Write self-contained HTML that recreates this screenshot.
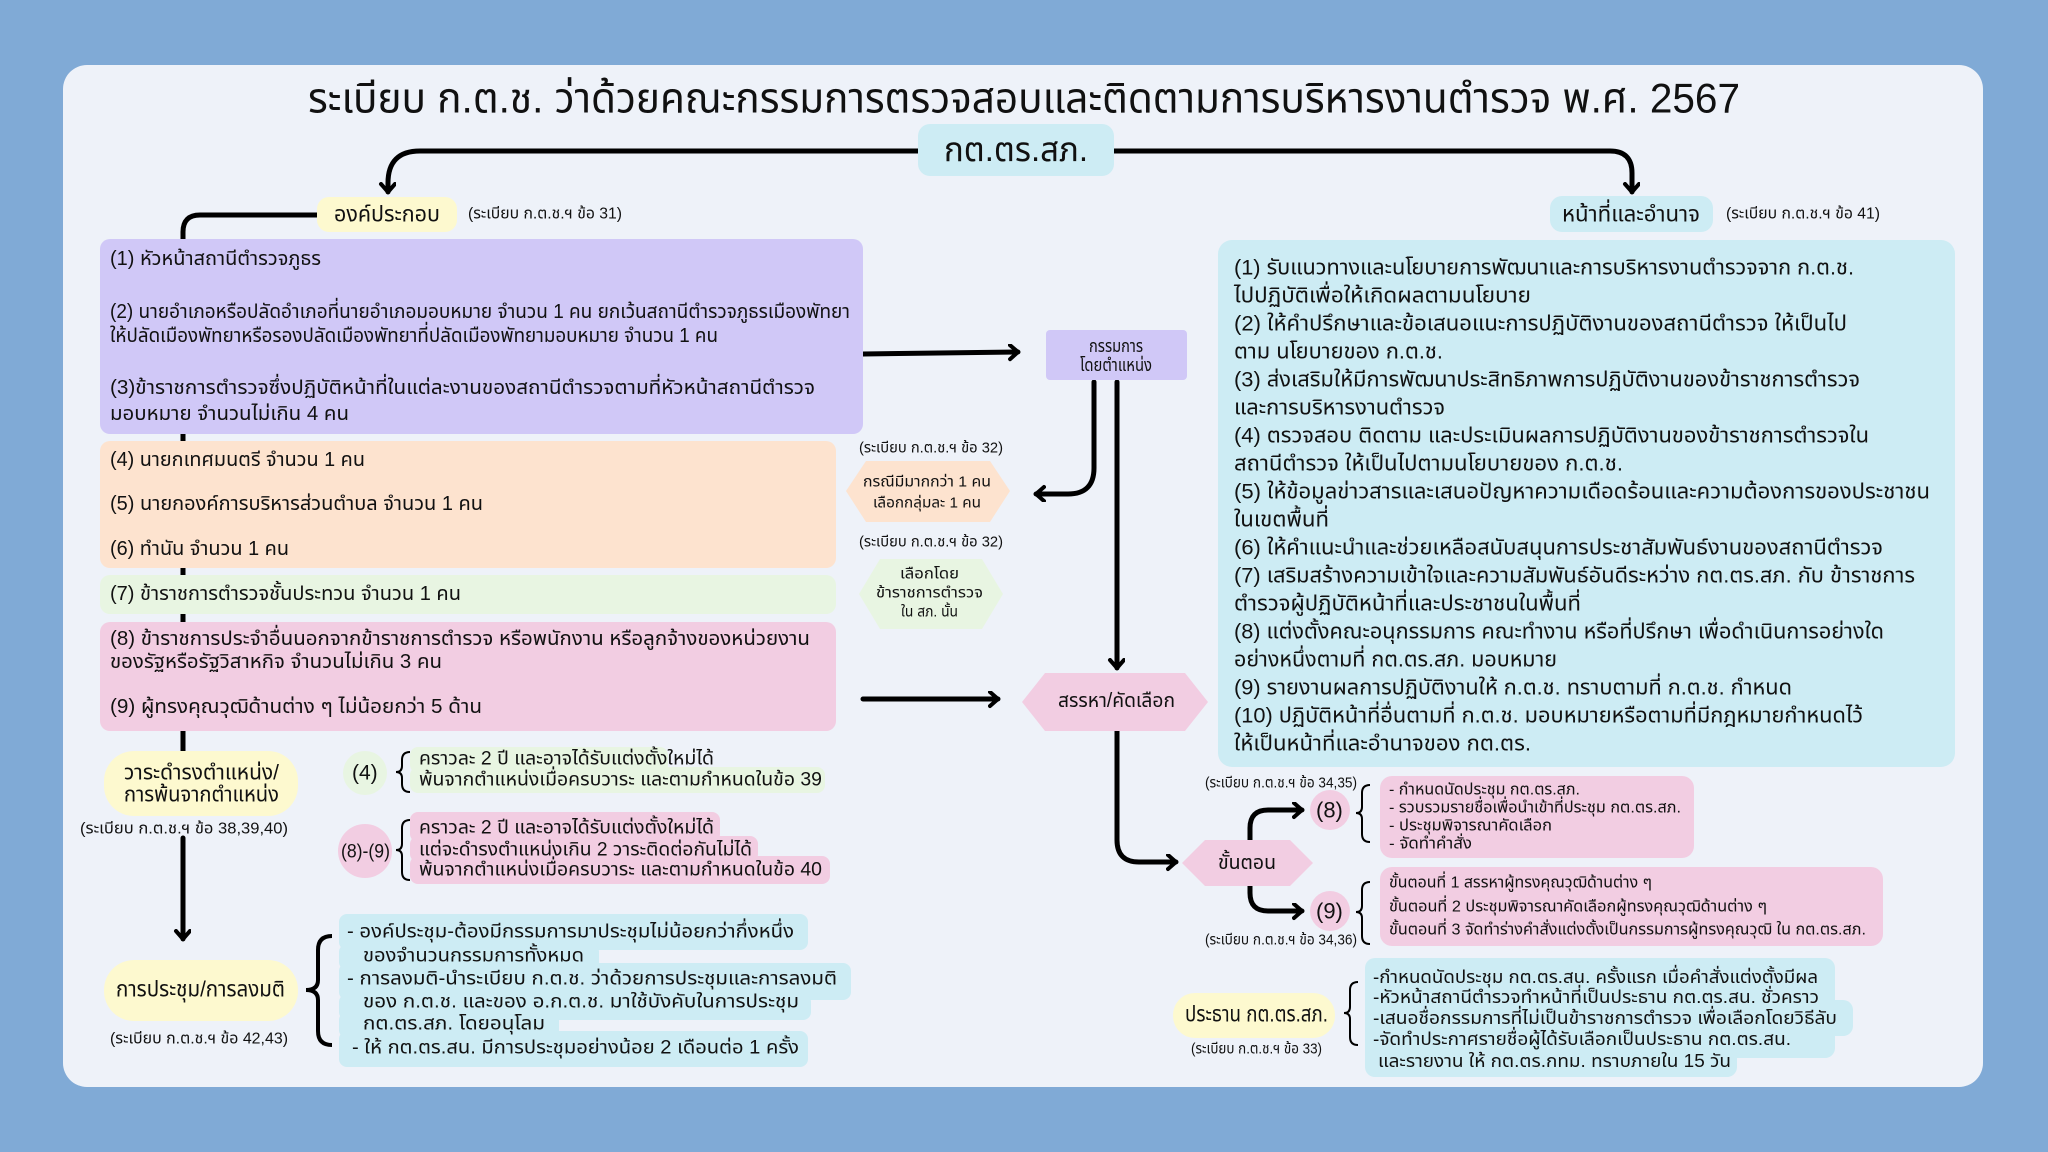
<!DOCTYPE html>
<html><head><meta charset="utf-8"><style>
html,body{margin:0;padding:0;background:#80aad6;}
svg{display:block}
text{font-family:"Liberation Sans","Noto Sans Thai","Loma","Garuda","DejaVu Sans",sans-serif;dominant-baseline:central;fill:#111;}
</style></head><body>
<svg width="2048" height="1152" viewBox="0 0 2048 1152" xmlns="http://www.w3.org/2000/svg">
<defs>
<marker id="ah" markerUnits="userSpaceOnUse" markerWidth="20" markerHeight="20" refX="10" refY="8" orient="auto">
<path d="M2,1 L10,8 L2,15" fill="none" stroke="#000" stroke-width="4" stroke-linecap="round" stroke-linejoin="round"/>
</marker>
</defs>
<rect x="0" y="0" width="2048" height="1152" fill="#80aad6"/>
<rect x="63" y="65" width="1920" height="1022" rx="24" fill="#eef2f9"/>

<g fill="none" stroke="#000" stroke-width="5" stroke-linecap="round">
<path d="M918,151 L420,151 Q388,151 388,183 L388,192" marker-end="url(#ah)"/>
<path d="M1114,151 L1610,151 Q1632,151 1632,173 L1632,192" marker-end="url(#ah)"/>
<path d="M317,215 L200,215 Q183,215 183,232 L183,751"/>
<path d="M183,838 L183,939" marker-end="url(#ah)"/>
<path d="M863,354 L1018,352" marker-end="url(#ah)"/>
<path d="M1094,382 L1094,468 Q1094,494 1068,494 L1036,494" marker-end="url(#ah)"/>
<path d="M1117,382 L1117,668" marker-end="url(#ah)"/>
<path d="M863,699 L998,699" marker-end="url(#ah)"/>
<path d="M1117,731 L1117,840 Q1117,862 1139,862 L1176,862" marker-end="url(#ah)"/>
<path d="M1250,840 L1250,828 Q1250,810 1268,810 L1302,810" marker-end="url(#ah)"/>
<path d="M1250,886 L1250,893 Q1250,911 1268,911 L1302,911" marker-end="url(#ah)"/>
</g>

<text x="308" y="98" font-size="42" textLength="1432" lengthAdjust="spacingAndGlyphs">ระเบียบ ก.ต.ช. ว่าด้วยคณะกรรมการตรวจสอบและติดตามการบริหารงานตำรวจ พ.ศ. 2567</text>
<rect x="918" y="124" width="196" height="52" rx="12" fill="#cdecf4"/>
<text x="944" y="150" font-size="34" textLength="144" lengthAdjust="spacingAndGlyphs">กต.ตร.สภ.</text>

<rect x="317" y="197" width="140" height="35" rx="12" fill="#fdf9cf"/>
<text x="334" y="214" font-size="22" textLength="106" lengthAdjust="spacingAndGlyphs">องค์ประกอบ</text>
<text x="468" y="214" font-size="16" textLength="154" lengthAdjust="spacingAndGlyphs">(ระเบียบ ก.ต.ช.ฯ ข้อ 31)</text>

<rect x="100" y="239" width="763" height="195" rx="10" fill="#d0c8f7"/>
<text x="110" y="259" font-size="20" textLength="211" lengthAdjust="spacingAndGlyphs">(1) หัวหน้าสถานีตำรวจภูธร</text>
<text x="110" y="312" font-size="20" textLength="740" lengthAdjust="spacingAndGlyphs">(2) นายอำเภอหรือปลัดอำเภอที่นายอำเภอมอบหมาย จำนวน 1 คน ยกเว้นสถานีตำรวจภูธรเมืองพัทยา</text>
<text x="110" y="336" font-size="20" textLength="608" lengthAdjust="spacingAndGlyphs">ให้ปลัดเมืองพัทยาหรือรองปลัดเมืองพัทยาที่ปลัดเมืองพัทยามอบหมาย จำนวน 1 คน</text>
<text x="110" y="388" font-size="20" textLength="705" lengthAdjust="spacingAndGlyphs">(3)ข้าราชการตำรวจซึ่งปฏิบัติหน้าที่ในแต่ละงานของสถานีตำรวจตามที่หัวหน้าสถานีตำรวจ</text>
<text x="110" y="414" font-size="20" textLength="239" lengthAdjust="spacingAndGlyphs">มอบหมาย จำนวนไม่เกิน 4 คน</text>

<rect x="100" y="441" width="736" height="127" rx="10" fill="#fde3cf"/>
<text x="110" y="460" font-size="20" textLength="255" lengthAdjust="spacingAndGlyphs">(4) นายกเทศมนตรี จำนวน 1 คน</text>
<text x="110" y="504" font-size="20" textLength="373" lengthAdjust="spacingAndGlyphs">(5) นายกองค์การบริหารส่วนตำบล จำนวน 1 คน</text>
<text x="110" y="549" font-size="20" textLength="179" lengthAdjust="spacingAndGlyphs">(6) ทำนัน จำนวน 1 คน</text>

<rect x="100" y="575" width="736" height="39" rx="10" fill="#e8f5e2"/>
<text x="110" y="594" font-size="20" textLength="351" lengthAdjust="spacingAndGlyphs">(7) ข้าราชการตำรวจชั้นประทวน จำนวน 1 คน</text>

<rect x="100" y="622" width="736" height="109" rx="10" fill="#f2cde2"/>
<text x="110" y="639" font-size="20" textLength="700" lengthAdjust="spacingAndGlyphs">(8) ข้าราชการประจำอื่นนอกจากข้าราชการตำรวจ หรือพนักงาน หรือลูกจ้างของหน่วยงาน</text>
<text x="110" y="662" font-size="20" textLength="332" lengthAdjust="spacingAndGlyphs">ของรัฐหรือรัฐวิสาหกิจ จำนวนไม่เกิน 3 คน</text>
<text x="110" y="707" font-size="20" textLength="372" lengthAdjust="spacingAndGlyphs">(9) ผู้ทรงคุณวุฒิด้านต่าง ๆ ไม่น้อยกว่า 5 ด้าน</text>

<rect x="1046" y="330" width="141" height="50" rx="4" fill="#d0c8f7"/>
<text x="1089" y="346" font-size="18" textLength="54" lengthAdjust="spacingAndGlyphs">กรรมการ</text>
<text x="1080" y="365" font-size="18" textLength="72" lengthAdjust="spacingAndGlyphs">โดยตำแหน่ง</text>

<text x="859" y="448" font-size="15" textLength="144" lengthAdjust="spacingAndGlyphs">(ระเบียบ ก.ต.ช.ฯ ข้อ 32)</text>
<polygon points="846,491 866,461 990,461 1010,491 990,522 866,522" fill="#fde3cf"/>
<text x="863" y="482" font-size="15" textLength="128" lengthAdjust="spacingAndGlyphs">กรณีมีมากกว่า 1 คน</text>
<text x="873" y="503" font-size="15" textLength="108" lengthAdjust="spacingAndGlyphs">เลือกกลุ่มละ 1 คน</text>
<text x="859" y="542" font-size="15" textLength="144" lengthAdjust="spacingAndGlyphs">(ระเบียบ ก.ต.ช.ฯ ข้อ 32)</text>
<polygon points="859,594 880,559 982,559 1003,594 982,629 880,629" fill="#e8f5e2"/>
<text x="900" y="574" font-size="15" textLength="59" lengthAdjust="spacingAndGlyphs">เลือกโดย</text>
<text x="876" y="593" font-size="15" textLength="107" lengthAdjust="spacingAndGlyphs">ข้าราชการตำรวจ</text>
<text x="901" y="612" font-size="15" textLength="57" lengthAdjust="spacingAndGlyphs">ใน สภ. นั้น</text>

<polygon points="1022,702 1045,673 1185,673 1208,702 1185,731 1045,731" fill="#f2cde2"/>
<text x="1058" y="701" font-size="20" textLength="117" lengthAdjust="spacingAndGlyphs">สรรหา/คัดเลือก</text>

<polygon points="1182,863 1205,840 1290,840 1313,863 1290,886 1205,886" fill="#f2cde2"/>
<text x="1218" y="863" font-size="20" textLength="58" lengthAdjust="spacingAndGlyphs">ขั้นตอน</text>

<text x="1205" y="783" font-size="15" textLength="152" lengthAdjust="spacingAndGlyphs">(ระเบียบ ก.ต.ช.ฯ ข้อ 34,35)</text>
<text x="1205" y="940" font-size="15" textLength="152" lengthAdjust="spacingAndGlyphs">(ระเบียบ ก.ต.ช.ฯ ข้อ 34,36)</text>
<circle cx="1330" cy="810" r="20" fill="#f2cde2"/>
<text x="1316" y="810" font-size="22">(8)</text>
<circle cx="1330" cy="911" r="20" fill="#f2cde2"/>
<text x="1316" y="911" font-size="22">(9)</text>

<rect x="1380" y="776" width="314" height="82" rx="12" fill="#f2cde2"/>
<text x="1389" y="790" font-size="16" textLength="191" lengthAdjust="spacingAndGlyphs">- กำหนดนัดประชุม กต.ตร.สภ.</text>
<text x="1389" y="808" font-size="16" textLength="292" lengthAdjust="spacingAndGlyphs">- รวบรวมรายชื่อเพื่อนำเข้าที่ประชุม กต.ตร.สภ.</text>
<text x="1389" y="826" font-size="16" textLength="163" lengthAdjust="spacingAndGlyphs">- ประชุมพิจารณาคัดเลือก</text>
<text x="1389" y="844" font-size="16" textLength="83" lengthAdjust="spacingAndGlyphs">- จัดทำคำสั่ง</text>

<rect x="1380" y="867" width="503" height="79" rx="12" fill="#f2cde2"/>
<text x="1389" y="883" font-size="16" textLength="263" lengthAdjust="spacingAndGlyphs">ขั้นตอนที่ 1 สรรหาผู้ทรงคุณวุฒิด้านต่าง ๆ</text>
<text x="1389" y="907" font-size="16" textLength="378" lengthAdjust="spacingAndGlyphs">ขั้นตอนที่ 2 ประชุมพิจารณาคัดเลือกผู้ทรงคุณวุฒิด้านต่าง ๆ</text>
<text x="1389" y="930" font-size="16" textLength="477" lengthAdjust="spacingAndGlyphs">ขั้นตอนที่ 3 จัดทำร่างคำสั่งแต่งตั้งเป็นกรรมการผู้ทรงคุณวุฒิ ใน กต.ตร.สภ.</text>

<rect x="1173" y="993" width="162" height="45" rx="22" fill="#fdf9cf"/>
<text x="1185" y="1014" font-size="22" textLength="143" lengthAdjust="spacingAndGlyphs">ประธาน กต.ตร.สภ.</text>
<text x="1191" y="1049" font-size="15" textLength="131" lengthAdjust="spacingAndGlyphs">(ระเบียบ ก.ต.ช.ฯ ข้อ 33)</text>
<g fill="#cdecf4">
<rect x="1365" y="958" width="470" height="100" rx="10"/>
<rect x="1365" y="1000" width="488" height="36" rx="10"/>
<rect x="1365" y="1040" width="372" height="37" rx="10"/>
</g>
<text x="1373" y="977" font-size="18" textLength="445" lengthAdjust="spacingAndGlyphs">-กำหนดนัดประชุม กต.ตร.สน. ครั้งแรก เมื่อคำสั่งแต่งตั้งมีผล</text>
<text x="1373" y="997" font-size="18" textLength="446" lengthAdjust="spacingAndGlyphs">-หัวหน้าสถานีตำรวจทำหน้าที่เป็นประธาน กต.ตร.สน. ชั่วคราว</text>
<text x="1373" y="1018" font-size="18" textLength="464" lengthAdjust="spacingAndGlyphs">-เสนอชื่อกรรมการที่ไม่เป็นข้าราชการตำรวจ เพื่อเลือกโดยวิธีลับ</text>
<text x="1373" y="1039" font-size="18" textLength="418" lengthAdjust="spacingAndGlyphs">-จัดทำประกาศรายชื่อผู้ได้รับเลือกเป็นประธาน กต.ตร.สน.</text>
<text x="1378" y="1061" font-size="18" textLength="353" lengthAdjust="spacingAndGlyphs">และรายงาน ให้ กต.ตร.กทม. ทราบภายใน 15 วัน</text>

<rect x="1550" y="196" width="163" height="36" rx="12" fill="#cdecf4"/>
<text x="1562" y="214" font-size="22" textLength="138" lengthAdjust="spacingAndGlyphs">หน้าที่และอำนาจ</text>
<text x="1726" y="214" font-size="16" textLength="154" lengthAdjust="spacingAndGlyphs">(ระเบียบ ก.ต.ช.ฯ ข้อ 41)</text>
<rect x="1218" y="240" width="737" height="527" rx="14" fill="#cdecf4"/>
<g font-size="21">
<text x="1234" y="268" textLength="620" lengthAdjust="spacingAndGlyphs">(1) รับแนวทางและนโยบายการพัฒนาและการบริหารงานตำรวจจาก ก.ต.ช.</text>
<text x="1234" y="296" textLength="297" lengthAdjust="spacingAndGlyphs">ไปปฏิบัติเพื่อให้เกิดผลตามนโยบาย</text>
<text x="1234" y="324" textLength="613" lengthAdjust="spacingAndGlyphs">(2) ให้คำปรึกษาและข้อเสนอแนะการปฏิบัติงานของสถานีตำรวจ ให้เป็นไป</text>
<text x="1234" y="352" textLength="209" lengthAdjust="spacingAndGlyphs">ตาม นโยบายของ ก.ต.ช.</text>
<text x="1234" y="380" textLength="626" lengthAdjust="spacingAndGlyphs">(3) ส่งเสริมให้มีการพัฒนาประสิทธิภาพการปฏิบัติงานของข้าราชการตำรวจ</text>
<text x="1234" y="408" textLength="211" lengthAdjust="spacingAndGlyphs">และการบริหารงานตำรวจ</text>
<text x="1234" y="436" textLength="635" lengthAdjust="spacingAndGlyphs">(4) ตรวจสอบ ติดตาม และประเมินผลการปฏิบัติงานของข้าราชการตำรวจใน</text>
<text x="1234" y="464" textLength="389" lengthAdjust="spacingAndGlyphs">สถานีตำรวจ ให้เป็นไปตามนโยบายของ ก.ต.ช.</text>
<text x="1234" y="492" textLength="696" lengthAdjust="spacingAndGlyphs">(5) ให้ข้อมูลข่าวสารและเสนอปัญหาความเดือดร้อนและความต้องการของประชาชน</text>
<text x="1234" y="520" textLength="95" lengthAdjust="spacingAndGlyphs">ในเขตพื้นที่</text>
<text x="1234" y="548" textLength="649" lengthAdjust="spacingAndGlyphs">(6) ให้คำแนะนำและช่วยเหลือสนับสนุนการประชาสัมพันธ์งานของสถานีตำรวจ</text>
<text x="1234" y="576" textLength="681" lengthAdjust="spacingAndGlyphs">(7) เสริมสร้างความเข้าใจและความสัมพันธ์อันดีระหว่าง กต.ตร.สภ. กับ ข้าราชการ</text>
<text x="1234" y="604" textLength="347" lengthAdjust="spacingAndGlyphs">ตำรวจผู้ปฏิบัติหน้าที่และประชาชนในพื้นที่</text>
<text x="1234" y="632" textLength="650" lengthAdjust="spacingAndGlyphs">(8) แต่งตั้งคณะอนุกรรมการ คณะทำงาน หรือที่ปรึกษา เพื่อดำเนินการอย่างใด</text>
<text x="1234" y="660" textLength="323" lengthAdjust="spacingAndGlyphs">อย่างหนึ่งตามที่ กต.ตร.สภ. มอบหมาย</text>
<text x="1234" y="688" textLength="558" lengthAdjust="spacingAndGlyphs">(9) รายงานผลการปฏิบัติงานให้ ก.ต.ช. ทราบตามที่ ก.ต.ช. กำหนด</text>
<text x="1234" y="716" textLength="629" lengthAdjust="spacingAndGlyphs">(10) ปฏิบัติหน้าที่อื่นตามที่ ก.ต.ช. มอบหมายหรือตามที่มีกฎหมายกำหนดไว้</text>
<text x="1234" y="744" textLength="297" lengthAdjust="spacingAndGlyphs">ให้เป็นหน้าที่และอำนาจของ กต.ตร.</text>
</g>

<rect x="104" y="751" width="194" height="65" rx="30" fill="#fdf9cf"/>
<text x="124" y="773" font-size="21" textLength="155" lengthAdjust="spacingAndGlyphs">วาระดำรงตำแหน่ง/</text>
<text x="124" y="795" font-size="21" textLength="155" lengthAdjust="spacingAndGlyphs">การพ้นจากตำแหน่ง</text>
<text x="80" y="829" font-size="16" textLength="208" lengthAdjust="spacingAndGlyphs">(ระเบียบ ก.ต.ช.ฯ ข้อ 38,39,40)</text>

<circle cx="365" cy="773" r="22" fill="#e8f5e2"/>
<text x="352" y="773" font-size="21">(4)</text>
<rect x="410" y="747" width="258" height="26" rx="8" fill="#e8f5e2"/>
<rect x="410" y="767" width="415" height="26" rx="8" fill="#e8f5e2"/>
<text x="419" y="759" font-size="19" textLength="295" lengthAdjust="spacingAndGlyphs">คราวละ 2 ปี และอาจได้รับแต่งตั้งใหม่ได้</text>
<text x="419" y="780" font-size="19" textLength="403" lengthAdjust="spacingAndGlyphs">พ้นจากตำแหน่งเมื่อครบวาระ และตามกำหนดในข้อ 39</text>

<circle cx="365" cy="851" r="27" fill="#f2cde2"/>
<text x="341" y="852" font-size="19" textLength="49" lengthAdjust="spacingAndGlyphs">(8)-(9)</text>
<rect x="410" y="812" width="310" height="30" rx="8" fill="#f2cde2"/>
<rect x="410" y="836" width="348" height="26" rx="8" fill="#f2cde2"/>
<rect x="410" y="856" width="420" height="28" rx="8" fill="#f2cde2"/>
<text x="419" y="828" font-size="19" textLength="295" lengthAdjust="spacingAndGlyphs">คราวละ 2 ปี และอาจได้รับแต่งตั้งใหม่ได้</text>
<text x="419" y="850" font-size="19" textLength="333" lengthAdjust="spacingAndGlyphs">แต่จะดำรงตำแหน่งเกิน 2 วาระติดต่อกันไม่ได้</text>
<text x="419" y="870" font-size="19" textLength="403" lengthAdjust="spacingAndGlyphs">พ้นจากตำแหน่งเมื่อครบวาระ และตามกำหนดในข้อ 40</text>

<rect x="104" y="960" width="194" height="61" rx="30" fill="#fdf9cf"/>
<text x="116" y="989" font-size="22" textLength="169" lengthAdjust="spacingAndGlyphs">การประชุม/การลงมติ</text>
<text x="110" y="1039" font-size="16" textLength="178" lengthAdjust="spacingAndGlyphs">(ระเบียบ ก.ต.ช.ฯ ข้อ 42,43)</text>

<g fill="#cdecf4">
<rect x="339" y="914" width="469" height="36" rx="8"/>
<rect x="339" y="944" width="260" height="26" rx="8"/>
<rect x="339" y="963" width="512" height="37" rx="8"/>
<rect x="339" y="994" width="472" height="26" rx="8"/>
<rect x="339" y="1012" width="220" height="26" rx="8"/>
<rect x="339" y="1031" width="469" height="36" rx="8"/>
</g>
<g font-size="19">
<text x="347" y="932" textLength="447" lengthAdjust="spacingAndGlyphs">- องค์ประชุม-ต้องมีกรรมการมาประชุมไม่น้อยกว่ากึ่งหนึ่ง</text>
<text x="363" y="956" textLength="221" lengthAdjust="spacingAndGlyphs">ของจำนวนกรรมการทั้งหมด</text>
<text x="347" y="979" textLength="490" lengthAdjust="spacingAndGlyphs">- การลงมติ-นำระเบียบ ก.ต.ช. ว่าด้วยการประชุมและการลงมติ</text>
<text x="363" y="1002" textLength="436" lengthAdjust="spacingAndGlyphs">ของ ก.ต.ช. และของ อ.ก.ต.ช. มาใช้บังคับในการประชุม</text>
<text x="363" y="1024" textLength="182" lengthAdjust="spacingAndGlyphs">กต.ตร.สภ. โดยอนุโลม</text>
<text x="352" y="1048" textLength="447" lengthAdjust="spacingAndGlyphs">- ให้ กต.ตร.สน. มีการประชุมอย่างน้อย 2 เดือนต่อ 1 ครั้ง</text>
</g>

<g fill="none" stroke="#000" stroke-width="2">
<path d="M410,752 Q402,752 402,760 L402,766 Q402,772 396,772 Q402,772 402,778 L402,784 Q402,792 410,792"/>
<path d="M410,820 Q402,820 402,828 L402,844 Q402,850 396,850 Q402,850 402,856 L402,872 Q402,880 410,880"/>
<path d="M1370,785 Q1362,785 1362,793 L1362,807 Q1362,813 1356,813 Q1362,813 1362,819 L1362,834 Q1362,842 1370,842"/>
<path d="M1370,882 Q1362,882 1362,890 L1362,906 Q1362,912 1356,912 Q1362,912 1362,918 L1362,936 Q1362,944 1370,944"/>
<path d="M1358,982 Q1350,982 1350,990 L1350,1007 Q1350,1013 1344,1013 Q1350,1013 1350,1019 L1350,1037 Q1350,1045 1358,1045"/>
</g>
<path d="M332,936 Q318,936 318,950 L318,980 Q318,990 306,990 Q318,990 318,1000 L318,1031 Q318,1045 332,1045" fill="none" stroke="#000" stroke-width="4"/>
</svg>
</body></html>
